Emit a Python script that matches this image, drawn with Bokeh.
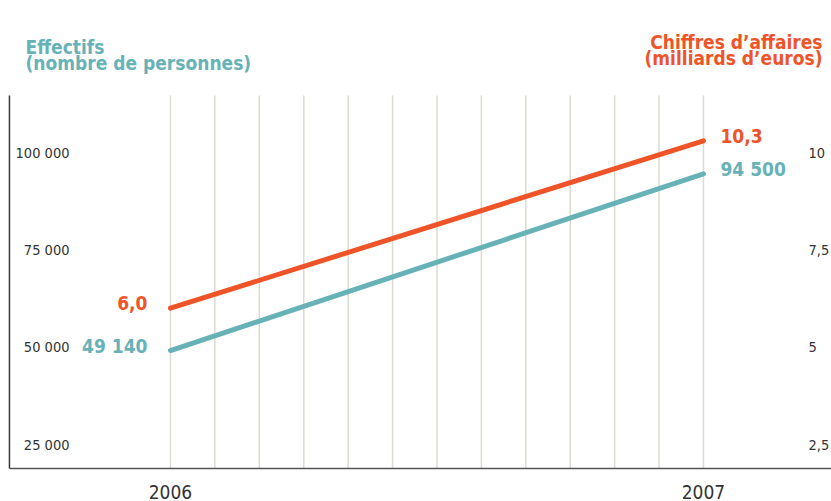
from bokeh.plotting import figure
from bokeh.models import Range1d, Label
from bokeh.embed import file_html
from bokeh.resources import INLINE

# ---- data ----
years = [2006, 2007]
effectifs = [49140, 94500]
effectifs_labels = ["49 140", "94 500"]
chiffre_affaires = [6.0, 10.3]
chiffre_affaires_labels = ["6,0", "10,3"]

left_ticks = [25000, 50000, 75000, 100000]
left_tick_labels = ["25 000", "50 000", "75 000", "100 000"]
right_ticks = [2.5, 5, 7.5, 10]
right_tick_labels = ["2,5", "5", "7,5", "10"]
x_ticks = [2006, 2007]
x_tick_labels = ["2006", "2007"]

# ---- layout (axis extents, in data units) ----
W, H = 831, 501
X_START, X_END = 2005.6811, 2007.2402          # whole canvas width
Y_START, Y_END = 10360, 139041                  # whole canvas height (left scale)
R_START, R_END = 1.0360, 13.9041                # right scale (same geometry)
AXIS_LEFT = 2005.6979
AXIS_BOTTOM = 18836
AXIS_TOP = 114640
MONTHS = [2006 + m / 12 for m in range(13)]

# ---- style ----
TEAL = "#66b2b7"
ORANGE = "#ef5428"
AXIS = "#3a3a3a"
GRID = "#dcdbd0"
TXT = "#333333"
FONT = "DejaVu Sans Condensed, Roboto"

p = figure(width=W, height=H, output_backend="svg", toolbar_location=None,
           x_range=Range1d(X_START, X_END), y_range=Range1d(Y_START, Y_END),
           min_border=0)
p.extra_y_ranges = {"right": Range1d(R_START, R_END)}
p.outline_line_color = None
p.background_fill_color = "white"
p.border_fill_color = "white"
p.xaxis.visible = False
p.yaxis.visible = False
p.grid.visible = False

# month grid + axis lines
p.segment(x0=MONTHS, y0=AXIS_BOTTOM, x1=MONTHS, y1=AXIS_TOP, line_color=GRID, line_width=1.5)
p.segment(x0=[AXIS_LEFT], y0=[AXIS_BOTTOM], x1=[AXIS_LEFT], y1=[AXIS_TOP], line_color=AXIS, line_width=1.5)
p.segment(x0=[AXIS_LEFT], y0=[AXIS_BOTTOM], x1=[X_END], y1=[AXIS_BOTTOM], line_color="#555555", line_width=1.5)

# series
p.line(years, effectifs, line_color=TEAL, line_width=5, line_cap="round")
p.line(years, chiffre_affaires, y_range_name="right", line_color=ORANGE, line_width=5, line_cap="round")

# tick labels
for t, s in zip(left_ticks, left_tick_labels):
    p.add_layout(Label(x=69, x_units="screen", y=t, text=s, text_align="right", text_baseline="middle",
                       text_font=FONT, text_font_size="14.5px", text_color=TXT))
for t, s in zip(right_ticks, right_tick_labels):
    p.add_layout(Label(x=808, x_units="screen", y=t, y_range_name="right", text=s, text_align="left",
                       text_baseline="middle", text_font=FONT, text_font_size="14.5px", text_color=TXT))
for t, s in zip(x_ticks, x_tick_labels):
    p.add_layout(Label(x=t, y=H - 491, y_units="screen", text=s, text_align="center", text_baseline="middle",
                       text_font=FONT, text_font_size="19px", text_color=TXT))

# value labels
def value_label(x, y, txt, color, left, rng="default"):
    p.add_layout(Label(x=x, y=y, y_range_name=rng, x_offset=-23 if left else 17, y_offset=5,
                       text=txt, text_align="right" if left else "left", text_baseline="middle",
                       text_font=FONT, text_font_style="bold", text_font_size="19px", text_color=color))

value_label(years[0], effectifs[0], effectifs_labels[0], TEAL, True)
value_label(years[1], effectifs[1], effectifs_labels[1], TEAL, False)
value_label(years[0], chiffre_affaires[0], chiffre_affaires_labels[0], ORANGE, True, "right")
value_label(years[1], chiffre_affaires[1], chiffre_affaires_labels[1], ORANGE, False, "right")

# titles (text middles placed at the reference's line middles)
for txt, ym in [("Effectifs", 46), ("(nombre de personnes)", 62.5)]:
    p.add_layout(Label(x=25, y=H - ym, x_units="screen", y_units="screen", text=txt, text_align="left",
                       text_baseline="middle", text_font=FONT, text_font_style="bold",
                       text_font_size="19px", text_color=TEAL))
for txt, ym in [("Chiffres d’affaires", 41), ("(milliards d’euros)", 57.5)]:
    p.add_layout(Label(x=822, y=H - ym, x_units="screen", y_units="screen", text=txt, text_align="right",
                       text_baseline="middle", text_font=FONT, text_font_style="bold",
                       text_font_size="19px", text_color=ORANGE))

open("out.html", "w").write(file_html(p, INLINE))
